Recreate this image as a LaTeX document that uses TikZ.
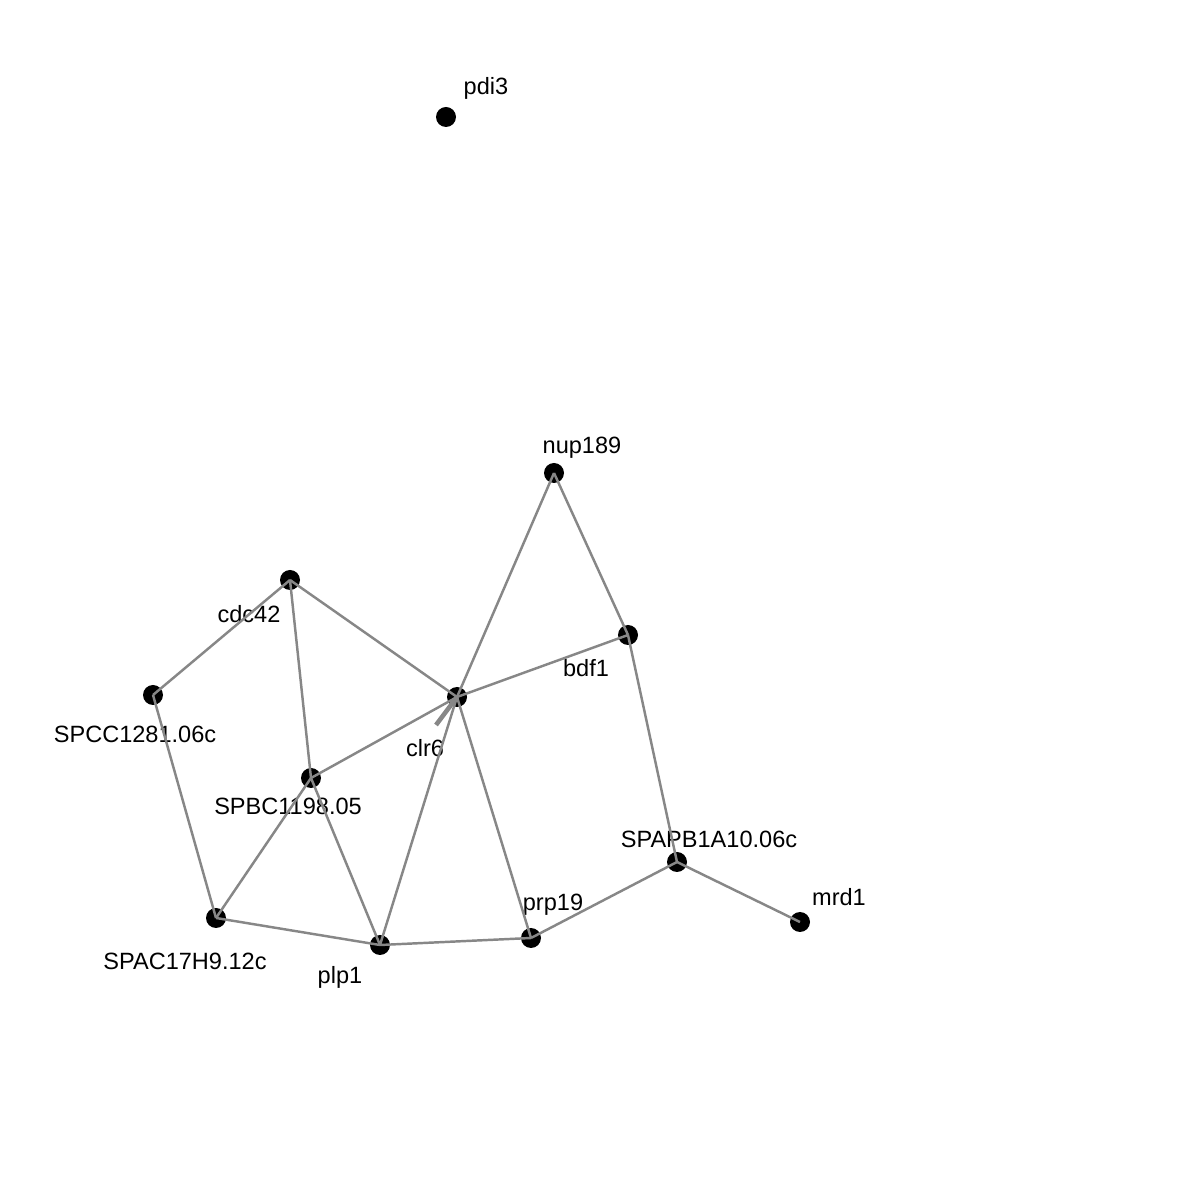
\documentclass[tikz,border=0pt]{standalone}
\usepackage{fontspec}
\setmainfont{Liberation Sans}
\definecolor{edgegray}{HTML}{878787}
\usetikzlibrary{arrows.meta,positioning,calc}

\begin{document}
\begin{tikzpicture}[
  v/.style={circle,fill=black,inner sep=0pt,minimum size=2mm},
  lbl/.style={font=\fontsize{6.7}{8}\selectfont,inner sep=0pt,anchor=center},
  e/.style={edgegray,line width=0.7pt}]
\useasboundingbox (0,0) rectangle (12,12);
% vertices
\node[v] (pdi3)   at (4.46,10.83) {};
\node[v] (nup189) at (5.54,7.27) {};
\node[v] (cdc42)  at (2.90,6.20) {};
\node[v] (bdf1)   at (6.28,5.65) {};
\node[v] (spcc)   at (1.53,5.05) {};
\node[v] (clr6)   at (4.57,5.03) {};
\node[v] (spbc)   at (3.11,4.22) {};
\node[v] (spapb)  at (6.77,3.38) {};
\node[v] (mrd1)   at (8.00,2.78) {};
\node[v] (spac)   at (2.16,2.82) {};
\node[v] (plp1)   at (3.80,2.55) {};
\node[v] (prp19)  at (5.31,2.62) {};
\coordinate (clr6loop) at (4.36,4.75);
% vertex labels
\node[lbl] (pdi3l)   at (4.86,11.12) {pdi3};
\node[lbl] (nup189l) at (5.82,7.52) {nup189};
\node[lbl] (cdc42l)  at (2.49,5.86) {cdc42};
\node[lbl] (bdf1l)   at (5.86,5.32) {bdf1};
\node[lbl] (spccl)   at (1.35,4.66) {SPCC1281.06c};
\node[lbl] (clr6l)   at (4.25,4.52) {clr6};
\node[lbl] (spbcl)   at (2.88,3.94) {SPBC1198.05};
\node[lbl] (spapbl)  at (7.09,3.61) {SPAPB1A10.06c};
\node[lbl] (mrd1l)   at (8.39,3.03) {mrd1};
\node[lbl] (spacl)   at (1.85,2.39) {SPAC17H9.12c};
\node[lbl] (plp1l)   at (3.40,2.23) {plp1};
\node[lbl] (prp19l)  at (5.53,2.95) {prp19};
% edges, drawn over the vertices
\foreach \a/\b in {nup189/clr6,nup189/bdf1,cdc42/spcc,cdc42/clr6,cdc42/spbc,
  bdf1/clr6,bdf1/spapb,spcc/spac,clr6/spbc,clr6/plp1,clr6/prp19,spbc/spac,
  spbc/plp1,spac/plp1,plp1/prp19,prp19/spapb,spapb/mrd1}
  \draw[e] (\a.center) -- (\b.center);
\draw[e,line width=1.3pt] (clr6.center) -- (clr6loop);
\end{tikzpicture}
\end{document}
